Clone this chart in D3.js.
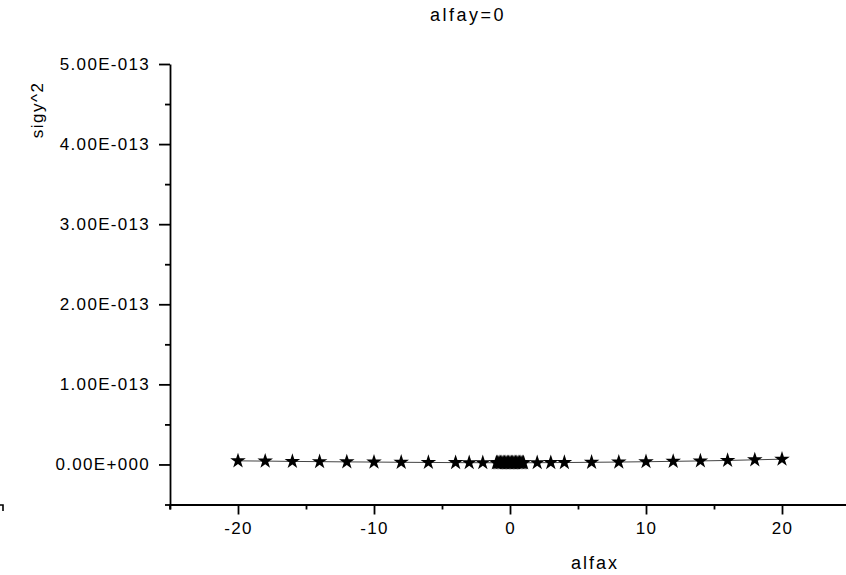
<!DOCTYPE html>
<html>
<head>
<meta charset="utf-8">
<script src="https://cdn.jsdelivr.net/npm/d3@7"></script>
<style>
  html, body { margin: 0; padding: 0; background: #fff; }
  svg { display: block; font-family: "Liberation Sans", Arial, sans-serif; }
  .axis path, .axis line { stroke: #000; stroke-width: 1.8px; }
  .axis text { fill: #000; font-size: 17px; letter-spacing: 1.3px; }
</style>
</head>
<body>
<svg id="chart" width="846" height="575"></svg>
<script>
// alfax values (dense between -1 and 1)
const alfax = [
  -20, -18, -16, -14, -12, -10, -8, -6, -4, -3, -2,
  -1, -0.9, -0.8, -0.7, -0.6, -0.5, -0.4, -0.3, -0.2, -0.1, 0,
  0.1, 0.2, 0.3, 0.4, 0.5, 0.6, 0.7, 0.8, 0.9, 1,
  2, 3, 4, 6, 8, 10, 12, 14, 16, 18, 20
];
// sigy^2 values
const sigy2 = [
  4.5e-15, 4.2e-15, 3.8e-15, 3.5e-15, 3.2e-15, 3.0e-15, 2.7e-15, 2.5e-15, 2.3e-15, 2.2e-15, 2.2e-15,
  2.1e-15, 2.1e-15, 2.1e-15, 2.1e-15, 2.1e-15, 2.1e-15, 2.1e-15, 2.1e-15, 2.1e-15, 2.1e-15, 2.1e-15,
  2.1e-15, 2.1e-15, 2.1e-15, 2.1e-15, 2.1e-15, 2.1e-15, 2.1e-15, 2.1e-15, 2.1e-15, 2.1e-15,
  2.2e-15, 2.3e-15, 2.4e-15, 2.7e-15, 3.0e-15, 3.4e-15, 3.9e-15, 4.4e-15, 5.0e-15, 5.8e-15, 6.6e-15
];
const xMajorTicks = [-20, -10, 0, 10, 20];
const xMinorTicks = [-25, -15, -5, 5, 15, 25];
const yMajorTicks = [0, 1e-13, 2e-13, 3e-13, 4e-13, 5e-13];
const yMinorTicks = [-0.5e-13, 0.5e-13, 1.5e-13, 2.5e-13, 3.5e-13, 4.5e-13];

const svg = d3.select('#chart');

const x = d3.scaleLinear().domain([-25, 25]).range([170, 850]);
const y = d3.scaleLinear().domain([-0.5e-13, 5e-13]).range([504.5, 64]);

// Origin style scientific labels, e.g. 1.00E-013
function sciFormat(v) {
  if (v === 0) return '0.00E+000';
  const exp = Math.floor(Math.log10(Math.abs(v)) + 1e-9);
  const mant = v / Math.pow(10, exp);
  const sign = exp < 0 ? '-' : '+';
  return mant.toFixed(2) + 'E' + sign + String(Math.abs(exp)).padStart(3, '0');
}

// y axis
const yAxisG = svg.append('g')
  .attr('class', 'axis')
  .attr('transform', `translate(${x(-25)},0)`);
yAxisG.call(d3.axisLeft(y).tickValues(yMajorTicks).tickSize(11).tickSizeOuter(0)
  .tickFormat(sciFormat).tickPadding(9));
yAxisG.append('g').call(d3.axisLeft(y).tickValues(yMinorTicks).tickSize(5).tickSizeOuter(0)
  .tickFormat(''))
  .select('.domain').remove();
// axis line runs a little past the x axis
yAxisG.append('line')
  .attr('x1', 0).attr('x2', 0)
  .attr('y1', y(-0.5e-13)).attr('y2', y(-0.5e-13) + 5)
  .attr('stroke', '#000').attr('stroke-width', 1.8);

// x axis
const xAxisG = svg.append('g')
  .attr('class', 'axis')
  .attr('transform', `translate(0,${y(-0.5e-13)})`);
xAxisG.call(d3.axisBottom(x).tickValues(xMajorTicks).tickSize(10).tickSizeOuter(0)
  .tickFormat(d => String(d)).tickPadding(7));
xAxisG.append('g').call(d3.axisBottom(x).tickValues(xMinorTicks).tickSize(5).tickSizeOuter(0)
  .tickFormat(''))
  .select('.domain').remove();

// data line
const points = alfax.map((d, i) => [d, sigy2[i]]);
svg.append('path')
  .datum(points)
  .attr('fill', 'none')
  .attr('stroke', '#444')
  .attr('stroke-width', 1)
  .attr('d', d3.line().x(d => x(d[0])).y(d => y(d[1])));

// star markers
svg.append('g')
  .selectAll('path')
  .data(points)
  .join('path')
  .attr('transform', d => `translate(${x(d[0])},${y(d[1])})`)
  .attr('d', d3.symbol().type(d3.symbolStar).size(75))
  .attr('fill', '#000');

// title and axis titles
svg.append('text')
  .attr('x', 468).attr('y', 21)
  .attr('text-anchor', 'middle')
  .style('font-size', '18px').style('letter-spacing', '2.5px')
  .text('alfay=0');

svg.append('text')
  .attr('transform', 'translate(43,110) rotate(-90)')
  .attr('text-anchor', 'middle')
  .style('font-size', '17px').style('letter-spacing', '1.5px')
  .text('sigy^2');

svg.append('text')
  .attr('x', 595).attr('y', 569)
  .attr('text-anchor', 'middle')
  .style('font-size', '18px').style('letter-spacing', '2px')
  .text('alfax');

// small leftover mark at the bottom left edge
svg.append('path')
  .attr('d', 'M0,505H3V511')
  .attr('fill', 'none')
  .attr('stroke', '#000')
  .attr('stroke-width', 1.6);
</script>
</body>
</html>
